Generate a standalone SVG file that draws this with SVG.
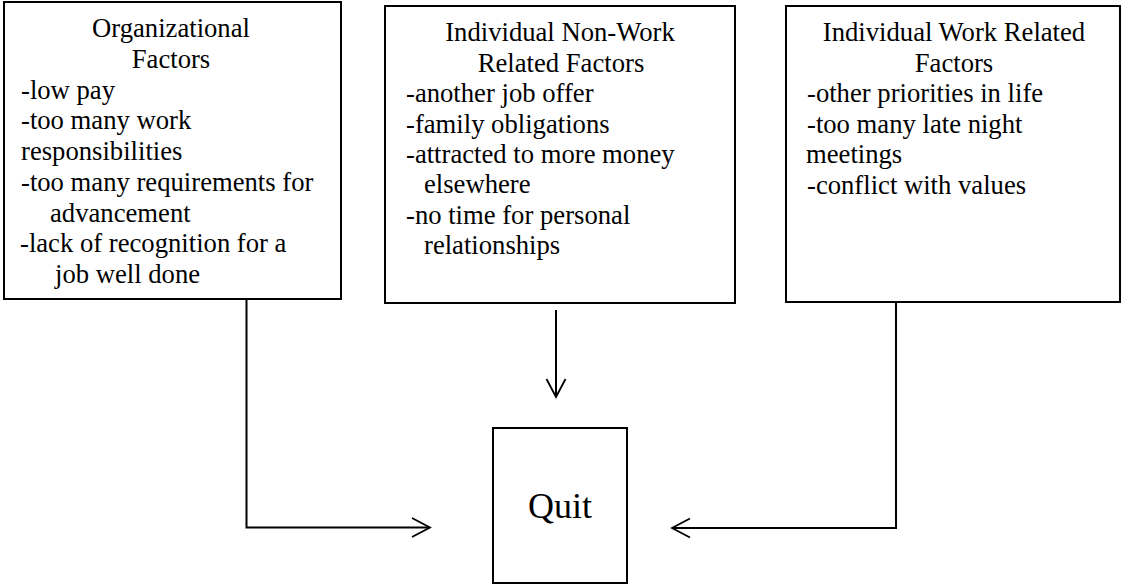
<svg xmlns="http://www.w3.org/2000/svg" width="1122" height="586" viewBox="0 0 1122 586">
<style>
.box{fill:#fff;stroke:#000;stroke-width:2}
.t{font-family:"Liberation Serif","Times New Roman",serif;font-size:26.67px;fill:#000}
.c{text-anchor:middle}
.conn{fill:none;stroke:#000;stroke-width:2}
</style>
<defs>
<marker id="open" markerUnits="userSpaceOnUse" markerWidth="24" markerHeight="24" viewBox="-20 -12 24 24" refX="0" refY="0" orient="auto">
<path d="M-18,-9.5 L0,0 L-18,9.5" fill="none" stroke="#000" stroke-width="1.8"/>
</marker>
</defs>
<rect width="1122" height="586" fill="#fff"/>
<g id="connectors">
<path class="conn" d="M246.5 299 V527.5 H430" marker-end="url(#open)"/>
<path class="conn" d="M556 310 V397" marker-end="url(#open)"/>
<path class="conn" d="M896 302 V528 H672" marker-end="url(#open)"/>
</g>
<g id="organizational">
<rect class="box" x="4" y="2" width="337" height="297"/>
<text class="t c" x="171" y="37">Organizational</text>
<text class="t c" x="171" y="67.7">Factors</text>
<text class="t" x="21" y="98.5">-low pay</text>
<text class="t" x="21" y="129.2">-too many work</text>
<text class="t" x="21" y="160">responsibilities</text>
<text class="t" x="21" y="190.7">-too many requirements for</text>
<text class="t" x="50" y="221.5">advancement</text>
<text class="t" x="20" y="252.2">-lack of recognition for a</text>
<text class="t" x="55" y="283">job well done</text>
</g>
<g id="nonwork">
<rect class="box" x="385" y="6" width="350" height="297"/>
<text class="t c" x="560" y="41">Individual Non-Work</text>
<text class="t c" x="561" y="71.5">Related Factors</text>
<text class="t" x="406" y="102">-another job offer</text>
<text class="t" x="406" y="132.5">-family obligations</text>
<text class="t" x="406" y="163">-attracted to more money</text>
<text class="t" x="424" y="193">elsewhere</text>
<text class="t" x="406" y="223.5">-no time for personal</text>
<text class="t" x="424" y="254">relationships</text>
</g>
<g id="workrelated">
<rect class="box" x="786" y="6" width="334" height="296"/>
<text class="t c" x="954" y="41">Individual Work Related</text>
<text class="t c" x="954" y="71.5">Factors</text>
<text class="t" x="807" y="102">-other priorities in life</text>
<text class="t" x="807" y="132.5">-too many late night</text>
<text class="t" x="806" y="163">meetings</text>
<text class="t" x="807" y="193.5">-conflict with values</text>
</g>
<g id="quit">
<rect class="box" x="493" y="428" width="134" height="155"/>
<text class="t c" x="560" y="518" style="font-size:36px">Quit</text>
</g>
</svg>
